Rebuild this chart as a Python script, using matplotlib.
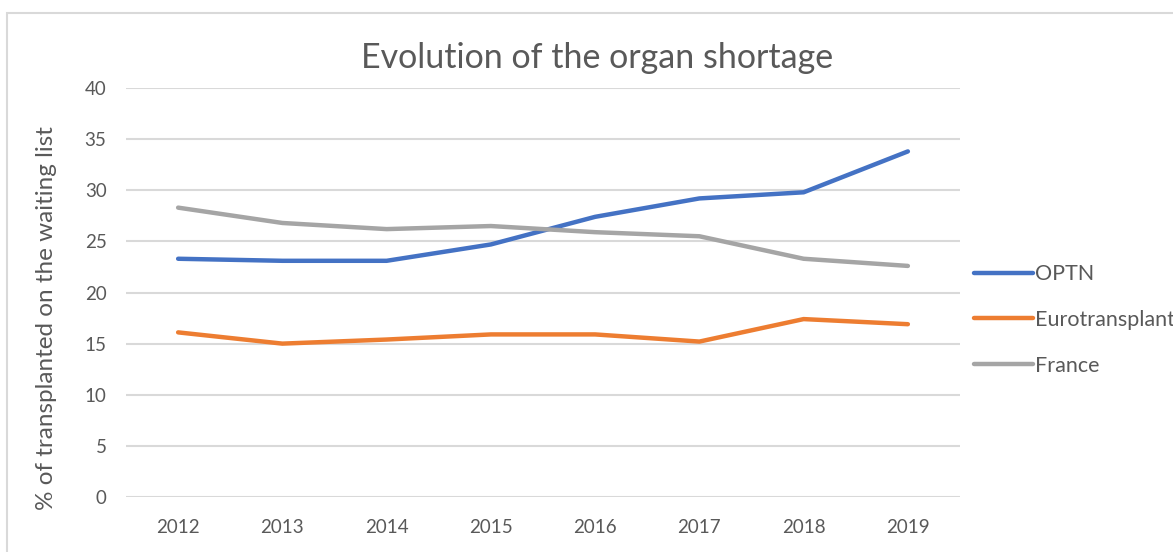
import numpy as np
import matplotlib
matplotlib.use("Agg")
import matplotlib.pyplot as plt
from matplotlib.patches import Rectangle

plt.rcParams["font.family"] = ["Lato", "DejaVu Sans"]

# ── Data ──────────────────────────────────────────────────────────────
years = ["2012", "2013", "2014", "2015", "2016", "2017", "2018", "2019"]
optn = [23.3, 23.1, 23.1, 24.7, 27.4, 29.2, 29.8, 33.8]
eurotransplant = [16.1, 15.0, 15.4, 15.9, 15.9, 15.2, 17.4, 16.9]
france = [28.3, 26.8, 26.2, 26.5, 25.9, 25.5, 23.3, 22.6]
yticks = [0, 5, 10, 15, 20, 25, 30, 35, 40]

series = [
    ("OPTN", optn, "#4472c4"),
    ("Eurotransplant", eurotransplant, "#ed7d31"),
    ("France", france, "#a5a5a5"),
]

W, H = 1173, 552
fig = plt.figure(figsize=(W / 100, H / 100), dpi=100)
fig.patch.set_facecolor("white")

# chart border like the Excel chart frame
fig.patches.append(Rectangle((7 / W, -0.2), 1.5, 1.2 - 13 / H,
                             transform=fig.transFigure, fill=False,
                             edgecolor="#d9d9d9", linewidth=1.5))

ax = fig.add_axes([126 / W, 1 - 497 / H, (960 - 126) / W, (497 - 88) / H])
x = np.arange(len(years))
for name, vals, col in series:
    ax.plot(x, vals, color=col, linewidth=3.2, solid_capstyle="round",
            solid_joinstyle="round", label=name)

ax.set_xlim(-0.5, len(years) - 0.5)
ax.set_ylim(0, 40)
ax.set_yticks(yticks)
ax.set_xticks(x)
ax.set_xticklabels(years)
ax.grid(axis="y", color="#d9d9d9", linewidth=1.5)
ax.set_axisbelow(True)
for s in ax.spines.values():
    s.set_visible(False)
ax.tick_params(length=0, labelsize=13.5, colors="#595959")
ax.tick_params(axis="y", pad=14)
ax.tick_params(axis="x", pad=16)

ax.set_ylabel("% of transplanted on the waiting list", fontsize=17.5,
              color="#595959", va="center")
ax.yaxis.set_label_coords(-0.095, 0.438)
fig.text(597 / W, 1 - 58 / H, "Evolution of the organ shortage",
         ha="center", va="center", fontsize=24.5, color="#595959")

leg = fig.legend(loc="center left", bbox_to_anchor=(955 / W, 1 - 320 / H),
                 frameon=False, fontsize=15.5, handlelength=2.7,
                 handletextpad=0.1, labelspacing=1.2)
for t in leg.get_texts():
    t.set_color("#595959")

fig.savefig("out.png", dpi=100)
